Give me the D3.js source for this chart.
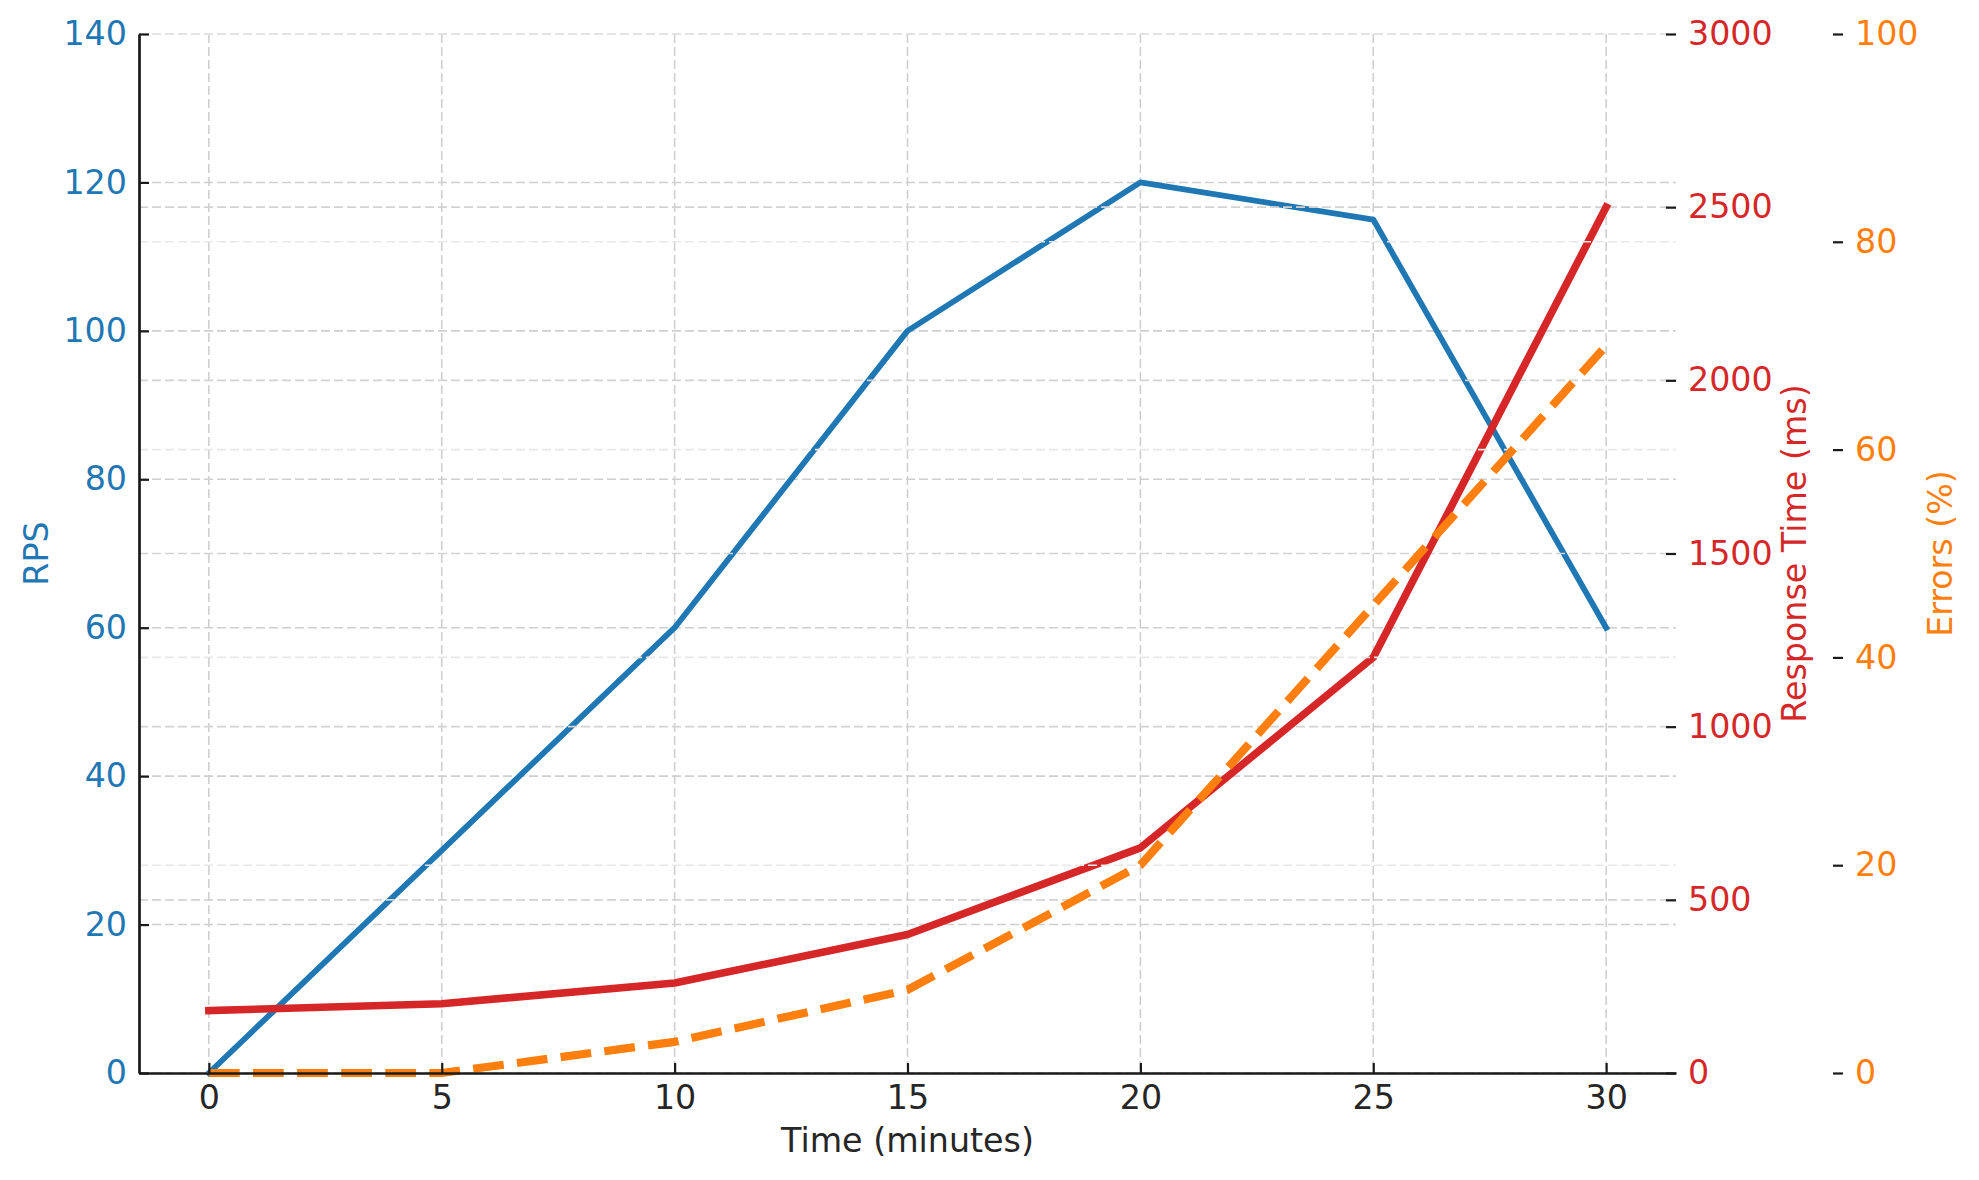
<!DOCTYPE html>
<html>
<head>
<meta charset="utf-8">
<script src="https://cdn.jsdelivr.net/npm/d3@7"></script>
<style>
  html, body { margin: 0; padding: 0; background: #ffffff; }
  svg { display: block; font-family: "DejaVu Sans", sans-serif; }
</style>
</head>
<body>
<svg id="chart" width="1979" height="1180"></svg>
<script>
// ---- data ----
const minutes = [0, 5, 10, 15, 20, 25, 30];
const rps = [0, 30, 60, 100, 120, 115, 60];
const responseMs = [180, 200, 260, 400, 650, 1200, 2500];
const errorsPct = [0, 0, 3, 8, 20, 45, 70];

const xTicks = [0, 5, 10, 15, 20, 25, 30];
const rpsTicks = [0, 20, 40, 60, 80, 100, 120, 140];
const msTicks = [0, 500, 1000, 1500, 2000, 2500, 3000];
const errTicks = [0, 20, 40, 60, 80, 100];

const labels = { x: "Time (minutes)", rps: "RPS", ms: "Response Time (ms)", err: "Errors (%)" };
const colors = { rps: "#1f77b4", ms: "#d62728", err: "#ff7f0e", text: "#262626" };

// ---- layout ----
const L = 139, R = 1676, T = 34, B = 1073;
const errAxisX = 1843;
const fs = 33.3;

const svg = d3.select("#chart");

const x = d3.scaleLinear().domain([-1.5, 31.5]).range([L, R]);
const yR = d3.scaleLinear().domain([0, 140]).range([B, T]);
const yM = d3.scaleLinear().domain([0, 3000]).range([B, T]);
const yE = d3.scaleLinear().domain([0, 100]).range([B, T]);

function hgrid(scale, ticks, color, cls) {
  svg.append("g").attr("class", cls).selectAll("line").data(ticks).join("line")
    .attr("x1", L).attr("x2", R)
    .attr("y1", d => scale(d)).attr("y2", d => scale(d))
    .attr("stroke", color).attr("stroke-width", 1.6)
    .attr("stroke-dasharray", "9,4");
}
function vgrid(color) {
  svg.append("g").selectAll("line").data(xTicks).join("line")
    .attr("x1", d => x(d)).attr("x2", d => x(d))
    .attr("y1", T).attr("y2", B)
    .attr("stroke", color).attr("stroke-width", 1.6)
    .attr("stroke-dasharray", "9,4");
}
function series(vals, scale, color, width, dash) {
  const line = d3.line().x((d, i) => x(minutes[i])).y(d => scale(d));
  const p = svg.append("path").datum(vals)
    .attr("d", line).attr("fill", "none")
    .attr("stroke", color).attr("stroke-width", width)
    .attr("stroke-linejoin", "round")
    .attr("stroke-linecap", dash ? "butt" : "square");
  if (dash) p.attr("stroke-dasharray", dash);
}

// ax1: grid + RPS line
vgrid("#cfcfcf");
hgrid(yR, rpsTicks, "#cfcfcf", "grid-rps");
series(rps, yR, colors.rps, 5.8, null);

// ax2: grid + response time line
hgrid(yM, msTicks, "#d2d2d2", "grid-ms");
series(responseMs, yM, colors.ms, 7.6, null);

// ax3: grid + errors line
hgrid(yE, errTicks, "#e8e8e8", "grid-err");
series(errorsPct, yE, colors.err, 8.2, "30.8,13.3");

// ---- axes ----
function styleAxis(g, color, tickColor) {
  g.selectAll("text").attr("fill", color).style("font-size", fs + "px")
    .style("font-family", "DejaVu Sans, sans-serif");
  g.selectAll(".tick line").attr("stroke", tickColor).attr("stroke-width", 2.2);
}

const axL = svg.append("g").attr("transform", `translate(${L},0)`)
  .call(d3.axisLeft(yR).tickValues(rpsTicks).tickSizeInner(-10).tickSizeOuter(0).tickPadding(12).tickFormat(d3.format("d")));
axL.select(".domain").attr("stroke", "#1a1a1a").attr("stroke-width", 2.7);
styleAxis(axL, colors.rps, "#1a1a1a");

const axB = svg.append("g").attr("transform", `translate(0,${B})`)
  .call(d3.axisBottom(x).tickValues(xTicks).tickSizeInner(-10).tickSizeOuter(0).tickPadding(12).tickFormat(d3.format("d")));
axB.select(".domain").attr("stroke", "#1a1a1a").attr("stroke-width", 2.7);
styleAxis(axB, colors.text, "#1a1a1a");

const axM = svg.append("g").attr("transform", `translate(${R},0)`)
  .call(d3.axisRight(yM).tickValues(msTicks).tickSizeInner(-10).tickSizeOuter(0).tickPadding(12).tickFormat(d3.format("d")));
axM.select(".domain").remove();
styleAxis(axM, colors.ms, "#1a1a1a");

const axE = svg.append("g").attr("transform", `translate(${errAxisX},0)`)
  .call(d3.axisRight(yE).tickValues(errTicks).tickSizeInner(-10).tickSizeOuter(0).tickPadding(12).tickFormat(d3.format("d")));
axE.select(".domain").remove();
styleAxis(axE, colors.err, "#1a1a1a");

// ---- axis titles ----
svg.append("text").text(labels.x)
  .attr("x", (L + R) / 2).attr("y", 1152)
  .attr("text-anchor", "middle").attr("fill", colors.text)
  .style("font-size", fs + "px");

const cy = (T + B) / 2;
svg.append("text").text(labels.rps)
  .attr("transform", `translate(48,${cy}) rotate(-90)`)
  .attr("text-anchor", "middle").attr("fill", colors.rps)
  .style("font-size", fs + "px");

svg.append("text").text(labels.ms)
  .attr("transform", `translate(1806,${cy}) rotate(-90)`)
  .attr("text-anchor", "middle").attr("fill", colors.ms)
  .style("font-size", fs + "px");

svg.append("text").text(labels.err)
  .attr("transform", `translate(1952,${cy}) rotate(-90)`)
  .attr("text-anchor", "middle").attr("fill", colors.err)
  .style("font-size", fs + "px");
</script>
</body>
</html>
